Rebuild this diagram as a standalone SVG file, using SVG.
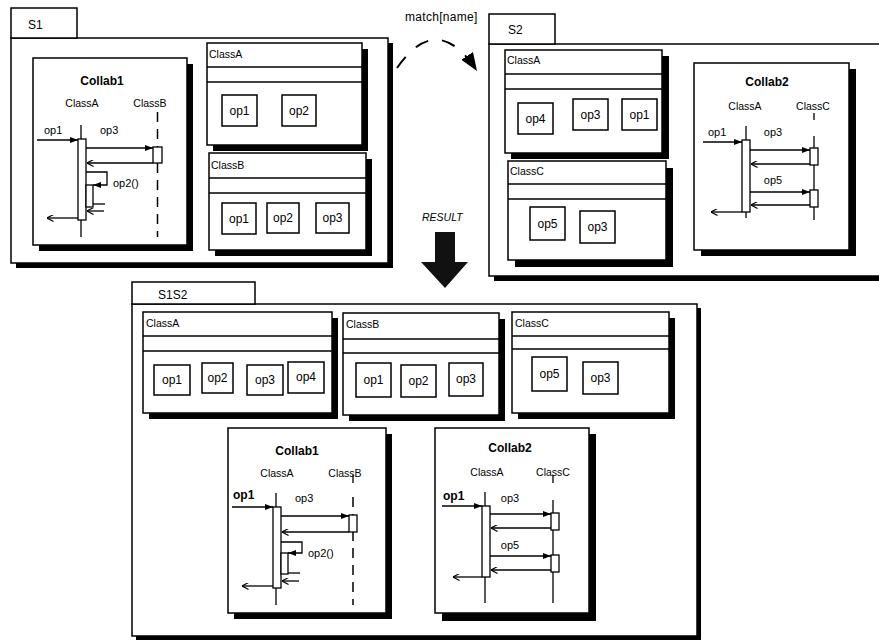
<svg xmlns="http://www.w3.org/2000/svg" width="879" height="641" viewBox="0 0 879 641">
<style>
.box{fill:#fff;stroke:#000;stroke-width:1.5}
.sh{fill:#000}
.ln{stroke:#000;stroke-width:1.3;fill:none}
.dl{stroke:#000;stroke-width:1.5;fill:none;stroke-dasharray:10,7}
.t{font-family:"Liberation Sans",Arial,sans-serif;fill:#000}
.cls{font-size:10.5px}
.op{font-size:12px;text-anchor:middle}
.ttl{font-size:12px;font-weight:bold;text-anchor:middle}
.ll{font-size:10.5px;text-anchor:middle}
.msg{font-size:11px}
.mc{font-size:11px;text-anchor:middle}
.b{font-weight:bold;font-size:12px}
.pkg{font-size:12px}
.act{fill:#fff;stroke:#000;stroke-width:1.3}
</style>
<defs>
<marker id="fh" viewBox="0 0 8 6" refX="8" refY="3" markerWidth="8" markerHeight="6" markerUnits="userSpaceOnUse" orient="auto"><path d="M0,0 L8,3 L0,6 z" fill="#000"/></marker>
<marker id="oh" viewBox="0 0 8 8" refX="7.5" refY="4" markerWidth="7" markerHeight="7" markerUnits="userSpaceOnUse" orient="auto"><path d="M0,0 L7.5,4 L0,8" fill="none" stroke="#000" stroke-width="1.3"/></marker>
<marker id="mh" viewBox="0 0 18 14" refX="18" refY="7" markerWidth="18" markerHeight="14" markerUnits="userSpaceOnUse" orient="auto"><path d="M0,0 L18,7 L0,14 z" fill="#000"/></marker>
</defs>

<!-- Package S1 -->
<g id="pkg-S1">
<rect class="sh" x="16" y="43" width="377" height="225"/>
<rect class="box" x="11" y="38" width="377" height="225"/>
<rect class="box" x="11" y="8" width="66" height="30"/>
<text class="t pkg" x="28" y="29">S1</text>
</g>

<g id="S1-Collab1">
<rect class="sh" x="39" y="64" width="154" height="187"/>
<rect class="box" x="33" y="58" width="154" height="187"/>
<text class="t ttl" x="102" y="85">Collab1</text>
<text class="t ll" x="82" y="107">ClassA</text>
<text class="t ll" x="150" y="107">ClassB</text>
<line class="ln" x1="81" y1="125" x2="81" y2="237"/>
<line class="dl" x1="157.5" y1="112" x2="157.5" y2="237"/>
<rect class="act" x="78" y="139" width="8" height="81"/>
<rect class="act" x="153" y="147" width="9" height="16"/>
<text class="t msg" x="44" y="134">op1</text>
<line class="ln" x1="37" y1="140" x2="78" y2="140" marker-end="url(#fh)"/>
<text class="t msg" x="100" y="134">op3</text>
<line class="ln" x1="86" y1="148" x2="153" y2="148" marker-end="url(#fh)"/>
<line class="ln" x1="153" y1="163" x2="87" y2="163" marker-end="url(#oh)"/>
<polyline class="ln" points="86,172 107,172 107,185 93,185" marker-end="url(#fh)"/>
<rect class="act" x="86" y="185" width="7" height="22"/>
<line class="ln" x1="93" y1="204" x2="105" y2="204"/>
<line class="ln" x1="104" y1="211" x2="87" y2="211" marker-end="url(#oh)"/>
<text class="t msg" x="113" y="187">op2()</text>
<line class="ln" x1="78" y1="218" x2="47" y2="218" marker-end="url(#oh)"/>
</g>

<g id="S1-ClassA">
<rect class="sh" x="213" y="49" width="155" height="102"/>
<rect class="box" x="207" y="43" width="155" height="102"/>
<line class="ln" x1="207" y1="67" x2="362" y2="67"/>
<line class="ln" x1="207" y1="82" x2="362" y2="82"/>
<text class="t cls" x="209" y="58">ClassA</text>
<rect class="box" x="222" y="95" width="35" height="31"/>
<text class="t op" x="239.5" y="115">op1</text>
<rect class="box" x="282" y="95" width="34" height="31"/>
<text class="t op" x="299" y="115">op2</text>
</g>

<g id="S1-ClassB">
<rect class="sh" x="215" y="159" width="157" height="97"/>
<rect class="box" x="209" y="153" width="157" height="97"/>
<line class="ln" x1="209" y1="178" x2="366" y2="178"/>
<line class="ln" x1="209" y1="193" x2="366" y2="193"/>
<text class="t cls" x="211" y="169">ClassB</text>
<rect class="box" x="222" y="203" width="34" height="31"/>
<text class="t op" x="239" y="223">op1</text>
<rect class="box" x="267" y="203" width="32" height="30"/>
<text class="t op" x="283" y="222">op2</text>
<rect class="box" x="316" y="203" width="33" height="30"/>
<text class="t op" x="332.5" y="222">op3</text>
</g>

<!-- Package S2 -->
<g id="pkg-S2">
<rect class="sh" x="494" y="49" width="392" height="232"/>
<rect class="box" x="489" y="44" width="393" height="232"/>
<rect class="box" x="489" y="14" width="66" height="30"/>
<text class="t pkg" x="508" y="34">S2</text>
</g>

<g id="S2-ClassA">
<rect class="sh" x="511" y="56" width="158" height="103"/>
<rect class="box" x="505" y="50" width="157" height="103"/>
<line class="ln" x1="505" y1="74" x2="662" y2="74"/>
<line class="ln" x1="505" y1="89" x2="662" y2="89"/>
<text class="t cls" x="507" y="64">ClassA</text>
<rect class="box" x="518" y="103" width="35" height="31"/>
<text class="t op" x="535.5" y="123">op4</text>
<rect class="box" x="573" y="99" width="35" height="31"/>
<text class="t op" x="590.5" y="119">op3</text>
<rect class="box" x="622" y="99" width="35" height="31"/>
<text class="t op" x="639.5" y="119">op1</text>
</g>

<g id="S2-ClassC">
<rect class="sh" x="515" y="168" width="158" height="99"/>
<rect class="box" x="508" y="161" width="158" height="99"/>
<line class="ln" x1="508" y1="184" x2="666" y2="184"/>
<line class="ln" x1="508" y1="199" x2="666" y2="199"/>
<text class="t cls" x="510" y="175">ClassC</text>
<rect class="box" x="530" y="207" width="35" height="33"/>
<text class="t op" x="547.5" y="228">op5</text>
<rect class="box" x="580" y="211" width="35" height="32"/>
<text class="t op" x="597.5" y="231">op3</text>
</g>

<g id="S2-Collab2">
<rect class="sh" x="701" y="69" width="155" height="187"/>
<rect class="box" x="694" y="63" width="155" height="187"/>
<text class="t ttl" x="767" y="86">Collab2</text>
<text class="t ll" x="745" y="110">ClassA</text>
<text class="t ll" x="813" y="110">ClassC</text>
<line class="ln" x1="746" y1="126" x2="746" y2="218"/>
<line class="ln" x1="814" y1="113" x2="814" y2="120"/>
<line class="ln" x1="814" y1="136" x2="814" y2="220"/>
<rect class="act" x="742" y="140" width="8" height="72"/>
<rect class="act" x="810" y="148" width="8" height="17"/>
<rect class="act" x="810" y="190" width="8" height="17"/>
<text class="t msg" x="708" y="136">op1</text>
<line class="ln" x1="703" y1="142" x2="742" y2="142" marker-end="url(#fh)"/>
<text class="t mc" x="773" y="136">op3</text>
<line class="ln" x1="750" y1="150" x2="810" y2="150" marker-end="url(#fh)"/>
<line class="ln" x1="810" y1="164" x2="751" y2="164" marker-end="url(#oh)"/>
<text class="t mc" x="773" y="184">op5</text>
<line class="ln" x1="750" y1="192" x2="810" y2="192" marker-end="url(#fh)"/>
<line class="ln" x1="810" y1="205" x2="751" y2="205" marker-end="url(#oh)"/>
<line class="ln" x1="742" y1="212" x2="711" y2="212" marker-end="url(#oh)"/>
</g>

<!-- Package S1S2 -->
<g id="pkg-S1S2">
<rect class="sh" x="136" y="308" width="565" height="332"/>
<rect class="box" x="132" y="304" width="565" height="332"/>
<rect class="box" x="132" y="282" width="123" height="22"/>
<text class="t pkg" x="158" y="299">S1S2</text>
</g>

<g id="S1S2-ClassA">
<rect class="sh" x="149" y="318" width="189" height="101"/>
<rect class="box" x="143" y="312" width="189" height="101"/>
<line class="ln" x1="143" y1="336" x2="332" y2="336"/>
<line class="ln" x1="143" y1="351" x2="332" y2="351"/>
<text class="t cls" x="146" y="327">ClassA</text>
<rect class="box" x="154" y="365" width="36" height="30"/>
<text class="t op" x="172" y="384">op1</text>
<rect class="box" x="202" y="363" width="31" height="30"/>
<text class="t op" x="217.5" y="382">op2</text>
<rect class="box" x="247" y="365" width="36" height="30"/>
<text class="t op" x="265" y="384">op3</text>
<rect class="box" x="288" y="362" width="36" height="31"/>
<text class="t op" x="306" y="381">op4</text>
</g>

<g id="S1S2-ClassB">
<rect class="sh" x="349" y="319" width="156" height="102"/>
<rect class="box" x="343" y="313" width="156" height="102"/>
<line class="ln" x1="343" y1="339" x2="499" y2="339"/>
<line class="ln" x1="343" y1="353" x2="499" y2="353"/>
<text class="t cls" x="346" y="328">ClassB</text>
<rect class="box" x="356" y="363" width="35" height="34"/>
<text class="t op" x="373.5" y="384">op1</text>
<rect class="box" x="401" y="365" width="35" height="32"/>
<text class="t op" x="418.5" y="385">op2</text>
<rect class="box" x="449" y="363" width="34" height="33"/>
<text class="t op" x="466" y="383">op3</text>
</g>

<g id="S1S2-ClassC">
<rect class="sh" x="518" y="318" width="157" height="101"/>
<rect class="box" x="512" y="312" width="157" height="101"/>
<line class="ln" x1="512" y1="336" x2="669" y2="336"/>
<line class="ln" x1="512" y1="349" x2="669" y2="349"/>
<text class="t cls" x="515" y="327">ClassC</text>
<rect class="box" x="532" y="357" width="35" height="34"/>
<text class="t op" x="549.5" y="378">op5</text>
<rect class="box" x="583" y="362" width="35" height="32"/>
<text class="t op" x="600.5" y="382">op3</text>
</g>

<g id="S1S2-Collab1" transform="translate(195,370)">
<rect class="sh" x="39" y="64" width="158" height="185"/>
<rect class="box" x="33" y="58" width="158" height="185"/>
<text class="t ttl" x="102" y="85">Collab1</text>
<text class="t ll" x="82" y="107">ClassA</text>
<text class="t ll" x="150" y="107">ClassB</text>
<line class="ln" x1="81" y1="123" x2="81" y2="235"/>
<line class="ln" x1="158" y1="105" x2="158" y2="113"/>
<line class="dl" x1="158" y1="127" x2="158" y2="235"/>
<rect class="act" x="78" y="137" width="8" height="81"/>
<rect class="act" x="154" y="145" width="8" height="17"/>
<text class="t b" x="38" y="129">op1</text>
<line class="ln" x1="37" y1="137" x2="78" y2="137" marker-end="url(#fh)"/>
<text class="t msg" x="100" y="132">op3</text>
<line class="ln" x1="86" y1="146" x2="154" y2="146" marker-end="url(#fh)"/>
<line class="ln" x1="154" y1="162" x2="87" y2="162" marker-end="url(#oh)"/>
<polyline class="ln" points="86,172 107,172 107,183 93,183" marker-end="url(#fh)"/>
<rect class="act" x="86" y="183" width="7" height="21"/>
<line class="ln" x1="93" y1="203" x2="105" y2="203"/>
<line class="ln" x1="104" y1="211" x2="87" y2="211" marker-end="url(#oh)"/>
<text class="t msg" x="113" y="187">op2()</text>
<line class="ln" x1="78" y1="216" x2="47" y2="216" marker-end="url(#oh)"/>
</g>

<g id="S1S2-Collab2" transform="translate(-259,365)">
<rect class="sh" x="701" y="69" width="154" height="187"/>
<rect class="box" x="694" y="63" width="154" height="185"/>
<text class="t ttl" x="769" y="87">Collab2</text>
<text class="t ll" x="746" y="111">ClassA</text>
<text class="t ll" x="812" y="111">ClassC</text>
<line class="ln" x1="744" y1="127" x2="744" y2="238"/>
<line class="ln" x1="812" y1="110" x2="812" y2="118"/>
<line class="ln" x1="812" y1="135" x2="812" y2="238"/>
<rect class="act" x="741" y="141" width="8" height="71"/>
<rect class="act" x="810" y="148" width="8" height="17"/>
<rect class="act" x="810" y="190" width="8" height="17"/>
<text class="t b" x="702" y="135">op1</text>
<line class="ln" x1="701" y1="141" x2="741" y2="141" marker-end="url(#fh)"/>
<text class="t mc" x="769" y="137">op3</text>
<line class="ln" x1="749" y1="149" x2="810" y2="149" marker-end="url(#fh)"/>
<line class="ln" x1="810" y1="163" x2="750" y2="163" marker-end="url(#oh)"/>
<text class="t mc" x="769" y="184">op5</text>
<line class="ln" x1="749" y1="191" x2="810" y2="191" marker-end="url(#fh)"/>
<line class="ln" x1="810" y1="205" x2="750" y2="205" marker-end="url(#oh)"/>
<line class="ln" x1="741" y1="212" x2="712" y2="212" marker-end="url(#oh)"/>
</g>

<!-- Connectors -->
<g id="connectors">
<text class="t" x="405" y="21" style="font-size:12px;letter-spacing:0.3px">match[name]</text>
<path d="M397,68 Q437,10 477,71" fill="none" stroke="#000" stroke-width="2" stroke-dasharray="14,14" marker-end="url(#mh)"/>
<text class="t" x="422" y="221" style="font-size:10.5px;font-style:italic">RESULT</text>
<polygon points="435,232 455,232 455,262 468,262 445,288 421,262 435,262" fill="#111"/>
</g>
</svg>
